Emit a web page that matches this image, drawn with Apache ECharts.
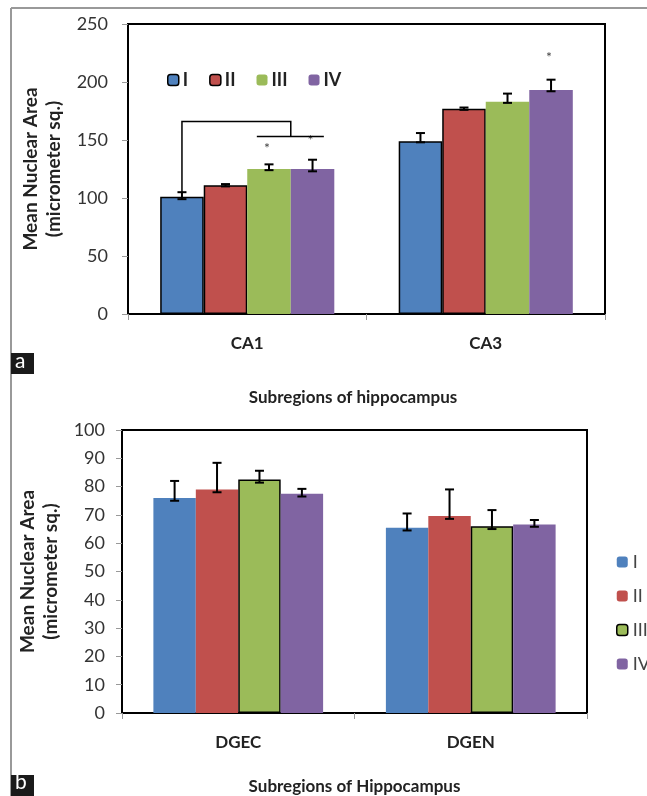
<!DOCTYPE html>
<html>
<head>
<meta charset="utf-8">
<script src="https://cdn.jsdelivr.net/npm/echarts@6/dist/echarts.min.js"></script>
<style>
  html, body { margin: 0; padding: 0; background: #fff; }
  #main { width: 647px; height: 796px; }
</style>
</head>
<body>
<div id="main"></div>
<script>
// panel a data
const catsA = ['CA1', 'CA3']
const groupNames = ['I', 'II', 'III', 'IV']
const meanA = [
  [101, 149],
  [111, 177],
  [125, 183],
  [125, 193]
]
const errPlusA = [
  [4, 7],
  [1, 1],
  [4, 7],
  [8, 9]
]
const errMinusA = [
  [2, 1],
  [1, 1],
  [1, 1],
  [2, 1]
]
// [category, group, value]
const starsA = [[0, 2, 143], [0, 3, 150], [1, 3, 221]]
// bracket: start (top of I error bar), upper level, lower level
const bracketA = [105, 166, 153]

// panel b data
const catsB = ['DGEC', 'DGEN']
const meanB = [
  [76, 65.5],
  [79, 69.6],
  [82.5, 66],
  [77.5, 66.6]
]
const errPlusB = [
  [6, 5],
  [9.4, 9.4],
  [3.1, 5.7],
  [1.7, 1.6]
]
const errMinusB = [
  [1, 1],
  [1, 1],
  [1.1, 1],
  [1, 0.8]
]

const colors = ['#4f81bd', '#c0504d', '#9bbb59', '#8064a2']
const FONT = 'Lato'
const GAP = 0.27

const chart = echarts.init(document.getElementById('main'), null, { renderer: 'canvas' })

const errRender = (params, api) => {
  const cat = api.value(0)
  const s = api.value(4)
  const band = api.size([1, 0])[0]
  const bw = band * (1 - GAP) / 4
  const c = api.coord([cat, api.value(1)])
  const x = c[0] + (s - 1.5) * bw
  const top = api.coord([cat, api.value(1) + api.value(2)])[1]
  const bot = api.coord([cat, api.value(1) - api.value(3)])[1]
  const style = { stroke: '#000', lineWidth: 2 }
  return {
    type: 'group',
    children: [
      { type: 'line', shape: { x1: x, y1: top, x2: x, y2: bot }, style },
      { type: 'line', shape: { x1: x - 4.5, y1: top, x2: x + 4.5, y2: top }, style },
      { type: 'line', shape: { x1: x - 4.5, y1: bot, x2: x + 4.5, y2: bot }, style }
    ]
  }
}

const errData = (mean, plus, minus) => {
  const arr = []
  mean.forEach((row, s) => {
    row.forEach((v, c) => arr.push([c, v, plus[s][c], minus[s][c], s]))
  })
  return arr
}

const barSeries = (mean, gridIdx, bordered) => mean.map((row, s) => ({
  name: groupNames[s],
  type: 'bar',
  xAxisIndex: gridIdx,
  yAxisIndex: gridIdx,
  barGap: '0%',
  barCategoryGap: '27%',
  animation: false,
  data: row,
  itemStyle: {
    color: colors[s],
    borderColor: bordered.includes(s) ? '#000' : colors[s],
    borderWidth: bordered.includes(s) ? 1.5 : 0
  }
}))

const legendData = (bordered) => groupNames.map((n, s) => ({
  name: n,
  itemStyle: {
    color: colors[s],
    borderColor: bordered.includes(s) ? '#000' : colors[s],
    borderWidth: bordered.includes(s) ? 1.5 : 0
  }
}))

const xAxisBase = (cats, gridIdx, name, gap) => ({
  type: 'category',
  gridIndex: gridIdx,
  data: cats,
  name: name,
  nameLocation: 'middle',
  nameGap: gap,
  nameTextStyle: { fontFamily: FONT, fontWeight: 'bold', fontSize: 17, color: '#222' },
  axisLine: { lineStyle: { color: '#000', width: 2 } },
  axisTick: { show: true, length: 6, lineStyle: { color: '#999' } },
  axisLabel: { fontFamily: FONT, fontWeight: 'bold', fontSize: 17, color: '#222', margin: 21 }
})

const yAxisBase = (gridIdx, max, interval, gap, margin) => ({
  type: 'value',
  gridIndex: gridIdx,
  min: 0,
  max: max,
  interval: interval,
  name: 'Mean Nuclear Area\n(micrometer sq.)',
  nameLocation: 'middle',
  nameGap: gap,
  nameTextStyle: { fontFamily: FONT, fontWeight: 'bold', fontSize: 19, color: '#222', lineHeight: 23 },
  axisLine: { show: true, lineStyle: { color: '#000', width: 2 } },
  axisTick: { show: true, length: 6, lineStyle: { color: '#999' } },
  splitLine: { show: false },
  axisLabel: { fontFamily: FONT, fontSize: 18, color: '#333', margin: margin }
})

const option = {
  backgroundColor: '#fff',
  animation: false,
  grid: [
    { left: 128, top: 24, width: 477, height: 290, show: true, borderColor: '#000', borderWidth: 2, containLabel: false, outerBoundsMode: 'none' },
    { left: 122, top: 430, width: 465, height: 283, show: true, borderColor: '#000', borderWidth: 2, containLabel: false, outerBoundsMode: 'none' }
  ],
  legend: [
    {
      data: legendData([0, 1]),
      left: 162,
      top: 66,
      itemWidth: 11,
      itemHeight: 11,
      itemGap: 21,
      selectedMode: false,
      textStyle: { fontFamily: FONT, fontWeight: 'bold', fontSize: 18, color: '#222', padding: [0, 0, 0, -1] }
    },
    {
      data: legendData([2]),
      orient: 'vertical',
      left: 611,
      top: 548,
      itemWidth: 11,
      itemHeight: 11,
      itemGap: 16,
      selectedMode: false,
      textStyle: { fontFamily: FONT, fontSize: 18, color: '#444' }
    }
  ],
  xAxis: [
    xAxisBase(catsA, 0, '', 84),
    xAxisBase(catsB, 1, 'Subregions of Hippocampus', 65)
  ],
  yAxis: [
    yAxisBase(0, 250, 50, 63, 20),
    yAxisBase(1, 100, 10, 60, 17)
  ],
  graphic: [
    { type: 'line', shape: { x1: 11, y1: 8, x2: 647, y2: 8 }, style: { stroke: '#999', lineWidth: 2 } },
    { type: 'line', shape: { x1: 11, y1: 8, x2: 11, y2: 796 }, style: { stroke: '#999', lineWidth: 2 } },
    { type: 'text', x: 353, y: 398, style: { text: 'Subregions of hippocampus', font: 'bold 17px ' + FONT, fill: '#222', align: 'center', verticalAlign: 'middle' } },
    { type: 'rect', shape: { x: 11, y: 353, width: 23, height: 21 }, style: { fill: '#1a1a1a' } },
    { type: 'text', x: 15, y: 351, style: { text: 'a', font: '21px ' + FONT, fill: '#fff' } },
    { type: 'rect', shape: { x: 11, y: 775, width: 23, height: 21 }, style: { fill: '#1a1a1a' } },
    { type: 'text', x: 15, y: 772, style: { text: 'b', font: '21px ' + FONT, fill: '#fff' } }
  ],
  series: [
    ...barSeries(meanA, 0, [0, 1]),
    ...barSeries(meanB, 1, [2]),
    {
      type: 'custom',
      xAxisIndex: 0,
      yAxisIndex: 0,
      z: 10,
      renderItem: errRender,
      encode: { x: 0, y: 1 },
      data: errData(meanA, errPlusA, errMinusA)
    },
    {
      type: 'custom',
      xAxisIndex: 1,
      yAxisIndex: 1,
      z: 10,
      renderItem: errRender,
      encode: { x: 0, y: 1 },
      data: errData(meanB, errPlusB, errMinusB)
    },
    {
      type: 'custom',
      xAxisIndex: 0,
      yAxisIndex: 0,
      z: 11,
      encode: { x: 0, y: 2 },
      data: starsA,
      renderItem: (params, api) => {
        const band = api.size([1, 0])[0]
        const bw = band * (1 - GAP) / 4
        const c = api.coord([api.value(0), api.value(2)])
        return {
          type: 'text',
          x: c[0] + (api.value(1) - 1.5) * bw - 2,
          y: c[1],
          style: { text: '*', font: '14px ' + FONT, fill: '#444', align: 'center', verticalAlign: 'middle' }
        }
      }
    },
    {
      type: 'custom',
      xAxisIndex: 0,
      yAxisIndex: 0,
      z: 11,
      encode: { x: 0, y: 1 },
      data: [[0, bracketA[0], bracketA[1], bracketA[2]]],
      renderItem: (params, api) => {
        const cat = api.value(0)
        const band = api.size([1, 0])[0]
        const bw = band * (1 - GAP) / 4
        const cx = api.coord([cat, 0])[0]
        const xI = cx - 1.5 * bw
        const xMid = cx + 1 * bw
        const yStart = api.coord([cat, api.value(1)])[1]
        const yTop = api.coord([cat, api.value(2)])[1]
        const yLow = api.coord([cat, api.value(3)])[1]
        const style = { stroke: '#000', lineWidth: 1.5, fill: null }
        return {
          type: 'group',
          children: [
            { type: 'polyline', shape: { points: [[xI, yStart], [xI, yTop], [xMid, yTop], [xMid, yLow]] }, style },
            { type: 'line', shape: { x1: cx + 0.22 * bw, y1: yLow, x2: cx + 1.76 * bw, y2: yLow }, style }
          ]
        }
      }
    }
  ]
}

chart.setOption(option)
</script>
</body>
</html>
